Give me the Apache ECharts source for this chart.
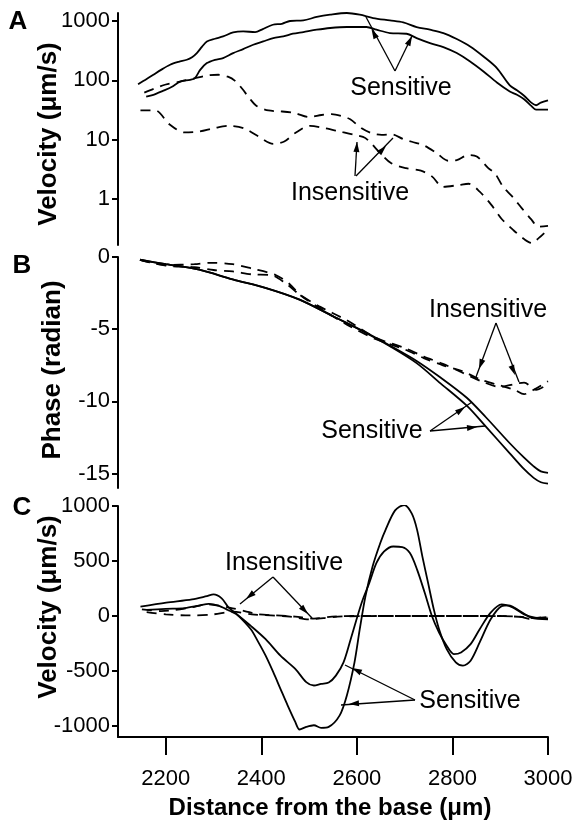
<!DOCTYPE html>
<html><head><meta charset="utf-8">
<script src="https://cdn.jsdelivr.net/npm/echarts@6/dist/echarts.min.js"></script>
<style>html,body{margin:0;padding:0;background:#fff}#c{width:577px;height:823px}</style>
</head><body><div id="c"></div>
<script>
// ---- tick values ----
const xTicks = [2200, 2400, 2600, 2800, 3000];
const aTicks = [1, 10, 100, 1000];
const bTicks = [0, -5, -10, -15];
const cTicks = [1000, 500, 0, -500, -1000];

// ---- Panel A: velocity magnitude (µm/s), log scale ----
const ampSens1 = [[2142,86],[2160,105],[2174,124],[2190,150],[2209,183],[2227,205],[2244,222],[2255,245],[2265,288],[2276,370],[2286,452],[2303,502],[2320,549],[2341,641],[2362,667],[2387,651],[2403,732],[2424,865],[2443,899],[2460,1000],[2488,1023],[2516,1169],[2544,1277],[2579,1364],[2606,1277],[2634,1123],[2669,1023],[2697,947],[2725,792],[2753,713],[2781,627],[2809,497],[2837,372],[2865,252],[2893,161],[2920,82],[2935,68],[2950,55],[2965,42],[2975,38],[2985,42],[3000,46]];
const ampSens2 = [[2159,53],[2174,57],[2195,67],[2212,77],[2230,95],[2251,102],[2261,109],[2272,150],[2286,195],[2303,222],[2320,237],[2341,288],[2362,336],[2383,398],[2404,452],[2425,516],[2446,549],[2466,610],[2488,652],[2516,713],[2544,762],[2579,792],[2620,792],[2641,713],[2669,627],[2704,610],[2725,516],[2753,425],[2781,364],[2809,288],[2837,208],[2865,141],[2893,92],[2920,65],[2935,57],[2950,48],[2965,37],[2975,32],[2985,32],[3000,32]];
const ampIns1 = [[2155,62],[2175,72],[2200,85],[2230,95],[2260,108],[2290,122],[2310,124],[2330,115],[2345,98],[2360,72],[2375,50],[2390,37],[2415,31],[2440,30],[2470,28],[2500,24],[2526,26],[2547,27],[2568,25],[2586,22],[2610,15.5],[2631,12.8],[2652,12],[2673,12.3],[2697,10.2],[2715,9.2],[2739,8.1],[2767,5.9],[2791,4.4],[2809,4.5],[2833,5.5],[2851,5.2],[2875,3.3],[2889,2.7],[2906,1.6],[2925,1.1],[2945,0.7],[2965,0.45],[2980,0.34],[3000,0.35]];
const ampIns2 = [[2147,31],[2178,31],[2208,18],[2239,13.2],[2270,13.7],[2301,15.6],[2332,17.1],[2363,15.6],[2394,11.3],[2425,8.5],[2448,9.3],[2471,12.9],[2502,17.1],[2533,15.6],[2564,13.7],[2595,12],[2618,10.6],[2649,5.9],[2672,4.0],[2703,3.3],[2734,3.0],[2757,2.4],[2780,1.6],[2811,1.7],[2834,1.8],[2857,1.33],[2881,0.8],[2904,0.45],[2927,0.3],[2950,0.21],[2966,0.18],[2981,0.22],[2995,0.28]];

// ---- Panel B: phase (radian) ----
const phSens1 = [[2146,-0.19],[2200,-0.5],[2270,-0.88],[2340,-1.55],[2410,-2.15],[2480,-2.95],[2550,-4.1],[2620,-5.25],[2670,-6.15],[2725,-7.2],[2775,-8.35],[2830,-9.75],[2870,-11.1],[2920,-12.9],[2950,-13.9],[2970,-14.5],[2985,-14.85],[3000,-14.95]];
const phSens2 = [[2146,-0.19],[2200,-0.5],[2270,-0.88],[2340,-1.55],[2410,-2.15],[2480,-2.95],[2550,-4.1],[2620,-5.28],[2670,-6.2],[2725,-7.35],[2775,-8.75],[2830,-10.3],[2870,-11.75],[2920,-13.6],[2950,-14.7],[2970,-15.3],[2985,-15.6],[3000,-15.7]];
const phIns1 = [[2146,-0.2],[2200,-0.55],[2260,-0.5],[2290,-0.4],[2340,-0.5],[2380,-0.8],[2430,-1.25],[2460,-1.9],[2480,-2.6],[2520,-3.5],[2580,-4.7],[2640,-5.7],[2700,-6.4],[2740,-7.0],[2780,-7.5],[2820,-7.9],[2860,-8.5],[2900,-8.9],[2930,-9.2],[2950,-9.5],[2970,-9.2],[3000,-8.6]];
const phIns2 = [[2146,-0.2],[2200,-0.6],[2260,-0.7],[2300,-0.9],[2340,-1.0],[2380,-1.2],[2420,-1.25],[2450,-1.8],[2480,-2.6],[2520,-3.4],[2580,-4.4],[2640,-5.6],[2700,-6.3],[2740,-6.9],[2780,-7.4],[2820,-8.0],[2860,-8.6],[2900,-9.0],[2930,-8.8],[2950,-8.7],[2975,-9.2],[3000,-8.8]];

// ---- Panel C: instantaneous velocity (µm/s) ----
const velSens1 = [[2147,85],[2201,121],[2255,151],[2286,181],[2300,196],[2317,160],[2332,75],[2348,20],[2378,-120],[2394,-240],[2409,-361],[2425,-511],[2440,-662],[2455,-812],[2471,-963],[2480,-1032],[2494,-1008],[2510,-993],[2525,-1017],[2541,-1008],[2564,-903],[2579,-722],[2595,-421],[2606,-120],[2618,181],[2633,452],[2649,663],[2660,783],[2680,960],[2699,1009],[2715,930],[2726,783],[2737,542],[2749,301],[2761,60],[2772,-120],[2788,-301],[2807,-421],[2822,-451],[2838,-406],[2857,-240],[2880,-30],[2903,90],[2918,97],[2941,45],[2965,-15],[3000,-30]];
const velSens2 = [[2160,55],[2200,65],[2240,72],[2270,95],[2290,110],[2310,95],[2330,55],[2350,10],[2378,-90],[2409,-211],[2440,-361],[2471,-481],[2494,-601],[2510,-632],[2525,-617],[2541,-605],[2556,-542],[2572,-421],[2587,-211],[2610,121],[2626,301],[2641,482],[2657,587],[2676,632],[2695,627],[2711,572],[2726,422],[2742,211],[2757,0],[2772,-150],[2788,-271],[2803,-346],[2818,-331],[2838,-256],[2857,-120],[2880,31],[2903,106],[2927,76],[2950,15],[2973,-15],[3000,-21]];
const velIns1 = [[2150,60],[2190,45],[2220,55],[2255,80],[2286,106],[2310,95],[2340,70],[2365,45],[2394,15],[2432,6],[2471,-6],[2510,-24],[2548,-6],[2600,0],[2700,0],[2800,0],[2900,0],[2950,-10],[2970,-18],[3000,-5]];
const velIns2 = [[2160,35],[2200,15],[2250,5],[2300,15],[2340,40],[2380,15],[2420,5],[2460,-5],[2500,-30],[2530,-20],[2560,-5],[2650,0],[2750,0],[2850,0],[2940,-5],[2960,-25],[2985,-15],[3000,-10]];

const FONT = '"Liberation Sans", Arial, Helvetica, sans-serif';
const BLACK = '#000';
const plain = function (v) { return String(v); };

function solid(data, xi, yi) {
  return { type: 'line', xAxisIndex: xi, yAxisIndex: yi, data: data, showSymbol: false, smooth: 0.3,
    lineStyle: { color: BLACK, width: 1.8 }, silent: true, animation: false };
}
function dashed(data, xi, yi) {
  return { type: 'line', xAxisIndex: xi, yAxisIndex: yi, data: data, showSymbol: false, smooth: 0.3,
    lineStyle: { color: BLACK, width: 1.8, type: [10, 7] }, silent: true, animation: false };
}

const grids = [
  { left: 118, right: 29, top: 13, height: 232 },
  { left: 118, right: 29, top: 257, height: 231 },
  { left: 118, right: 29, top: 506, height: 231 }
];

function xAxisFor(i) {
  const show = i === 2;
  return { type: 'value', gridIndex: i, min: 2100, max: 3000, show: show,
    axisLine: { show: true, onZero: false, lineStyle: { color: BLACK, width: 2 } },
    axisTick: { show: true, length: 18, inside: false, customValues: xTicks, lineStyle: { color: BLACK, width: 2 } },
    axisLabel: { show: true, customValues: xTicks, margin: 31, color: BLACK, fontSize: 22, fontFamily: FONT, formatter: plain },
    splitLine: { show: false } };
}
function yAxisCommon(extra) {
  return Object.assign({
    axisLine: { show: true, onZero: false, lineStyle: { color: BLACK, width: 2 } },
    axisTick: { show: true, length: 6, lineStyle: { color: BLACK, width: 2 } },
    axisLabel: { color: BLACK, fontSize: 22, fontFamily: FONT, margin: 8, formatter: plain },
    splitLine: { show: false }
  }, extra);
}
const yA = yAxisCommon({ type: 'log', logBase: 10, gridIndex: 0, min: 0.167, max: 1365 });
yA.axisTick.customValues = aTicks; yA.axisLabel.customValues = aTicks;
const yB = yAxisCommon({ type: 'value', gridIndex: 1, min: -16, max: 0 });
yB.axisTick.customValues = bTicks; yB.axisLabel.customValues = bTicks;
const yC = yAxisCommon({ type: 'value', gridIndex: 2, min: -1100, max: 1000 });
yC.axisTick.customValues = cTicks; yC.axisLabel.customValues = cTicks;

// ---- annotations ----
const graphics = [];
function txt(s, x, y, size, bold, rot) {
  graphics.push({ type: 'text', x: x, y: y, rotation: rot || 0, silent: true,
    style: { text: s, fill: BLACK, font: (bold ? 'bold ' : '') + size + 'px ' + FONT,
      textAlign: 'center', textVerticalAlign: 'middle' } });
}
function arrow(x1, y1, x2, y2, tx, ty) {
  graphics.push({ type: 'line', silent: true, shape: { x1: x1, y1: y1, x2: x2, y2: y2 },
    style: { stroke: BLACK, lineWidth: 1.3 } });
  if (tx === undefined) { tx = x2; ty = y2; }
  const dx = x2 - x1, dy = y2 - y1, L = Math.sqrt(dx * dx + dy * dy);
  const ux = dx / L, uy = dy / L, hl = 10, hw = 3;
  const bx = tx - ux * hl, by = ty - uy * hl;
  graphics.push({ type: 'polygon', silent: true,
    shape: { points: [[tx, ty], [bx - uy * hw, by + ux * hw], [bx + uy * hw, by - ux * hw]] },
    style: { fill: BLACK } });
}
// panel letters
txt('A', 18, 22, 26, true); txt('B', 22, 266, 26, true); txt('C', 22, 508, 26, true);
// axis titles
txt('Velocity (μm/s)', 49, 134, 26, true, Math.PI / 2);
txt('Phase (radian)', 53, 370, 26, true, Math.PI / 2);
txt('Velocity (μm/s)', 49, 607, 26, true, Math.PI / 2);
txt('Distance from the base (μm)', 330, 808, 24, true);
// panel A
txt('Sensitive', 401, 88, 25);
arrow(395, 71, 366, 17, 371.5, 29);
arrow(395, 71, 412, 36);
txt('Insensitive', 350, 193, 25);
arrow(355, 176, 357, 142);
arrow(356, 176, 393, 138, 386, 146);
// panel B
txt('Insensitive', 488, 310, 25);
arrow(496, 323, 476, 377, 479, 369);
arrow(496, 323, 519, 382, 515, 375);
txt('Sensitive', 372, 431, 25);
arrow(430, 431, 472, 402, 465, 407);
arrow(430, 431, 485, 426, 477, 427);
// panel C
txt('Insensitive', 284, 563, 25);
arrow(273, 577, 240, 604, 246, 599);
arrow(273, 577, 312, 618, 308, 614);
txt('Sensitive', 470, 701, 25);
arrow(415, 700, 345, 665, 352, 668);
arrow(415, 700, 341, 705, 349, 704);

const chart = echarts.init(document.getElementById('c'), null, { renderer: 'canvas' });
chart.setOption({
  backgroundColor: '#fff',
  animation: false,
  grid: grids,
  xAxis: [xAxisFor(0), xAxisFor(1), xAxisFor(2)],
  yAxis: [yA, yB, yC],
  series: [
    solid(ampSens1, 0, 0), solid(ampSens2, 0, 0), dashed(ampIns1, 0, 0), dashed(ampIns2, 0, 0),
    solid(phSens1, 1, 1), solid(phSens2, 1, 1), dashed(phIns1, 1, 1), dashed(phIns2, 1, 1),
    solid(velSens1, 2, 2), solid(velSens2, 2, 2), dashed(velIns1, 2, 2), dashed(velIns2, 2, 2)
  ],
  graphic: graphics
});
</script></body></html>
